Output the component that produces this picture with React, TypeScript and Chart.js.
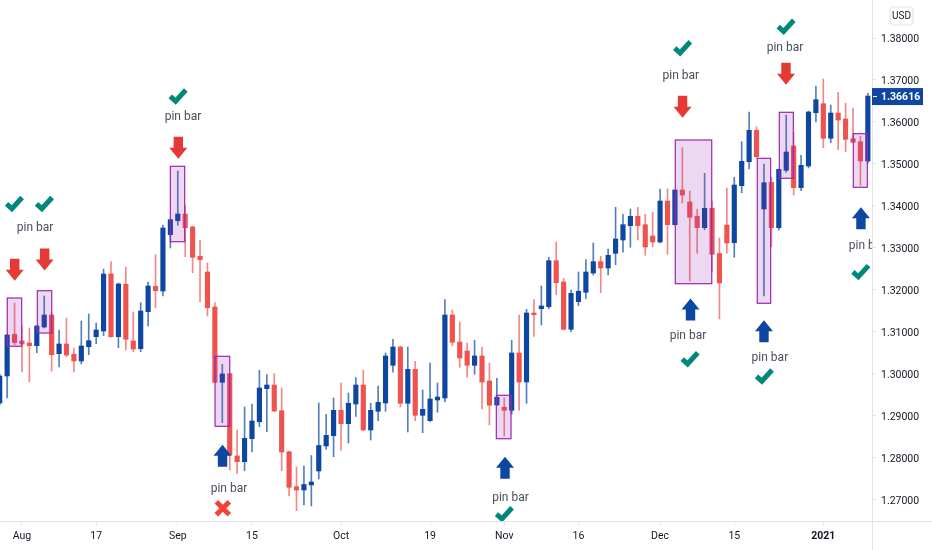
import React, { useEffect, useRef } from 'react';
import { Chart, ChartConfiguration, Plugin, registerables } from 'chart.js';

Chart.register(...registerables);

const opens = [
  1.29299, 1.29943, 1.30937, 1.30777, 1.30729, 1.30665, 1.31111, 1.31397, 1.30475, 1.30706,
  1.3046, 1.303, 1.30641, 1.3088, 1.31015, 1.32374, 1.3088, 1.32129, 1.30777, 1.30594,
  1.31476, 1.32081, 1.31969, 1.33311, 1.33645, 1.33805, 1.33495, 1.32796, 1.32422, 1.31588,
  1.29793, 1.29998, 1.28036, 1.279, 1.28448, 1.28853, 1.2964, 1.29728, 1.29116, 1.28138,
  1.27304, 1.27225, 1.27345, 1.27678, 1.28274, 1.2852, 1.29125, 1.28806, 1.29275, 1.29728,
  1.28656, 1.29101, 1.29299, 1.30198, 1.30634, 1.29292, 1.30102, 1.29006, 1.28877, 1.29371,
  1.29418, 1.31397, 1.30753, 1.30539, 1.30198, 1.3042, 1.29824, 1.29252, 1.29197, 1.29125,
  1.30491, 1.298, 1.31445, 1.31547, 1.31595, 1.32691, 1.32184, 1.31056, 1.31714, 1.31938,
  1.32398, 1.32668, 1.32517, 1.32868, 1.33185, 1.33526, 1.3375, 1.3355, 1.3328, 1.33137,
  1.34114, 1.3355, 1.34377, 1.34091, 1.3375, 1.33478, 1.33941, 1.32863, 1.33542, 1.3312,
  1.34479, 1.35051, 1.358, 1.33924, 1.3456, 1.33478, 1.34846, 1.35426, 1.34431, 1.34949,
  1.36219, 1.36434, 1.35609, 1.36212, 1.36069, 1.356, 1.35528, 1.35068,
];
const closes = [
  1.29943, 1.3092, 1.30737, 1.30706, 1.30665, 1.31135, 1.31397, 1.30451, 1.30706, 1.30443,
  1.303, 1.30658, 1.30784, 1.31039, 1.32374, 1.3088, 1.32136, 1.30818, 1.30587, 1.31492,
  1.32088, 1.31976, 1.33471, 1.33669, 1.33805, 1.33478, 1.32772, 1.32715, 1.31571, 1.29793,
  1.29991, 1.2806, 1.279, 1.28458, 1.2887, 1.29657, 1.29728, 1.29108, 1.28131, 1.27289,
  1.27225, 1.27356, 1.27416, 1.28286, 1.28529, 1.29125, 1.28806, 1.29292, 1.29728, 1.28656,
  1.29125, 1.29316, 1.3042, 1.30634, 1.29292, 1.30102, 1.29006, 1.29149, 1.29395, 1.29442,
  1.31397, 1.30746, 1.30372, 1.30198, 1.3042, 1.298, 1.29245, 1.29435, 1.29125, 1.30491,
  1.298, 1.31445, 1.31404, 1.31612, 1.32691, 1.32167, 1.31056, 1.31914, 1.31962, 1.32422,
  1.32668, 1.32517, 1.3282, 1.33209, 1.3355, 1.3375, 1.33526, 1.33018, 1.33137, 1.34114,
  1.3355, 1.34377, 1.34257, 1.33726, 1.33478, 1.33941, 1.32844, 1.3216, 1.33113, 1.34496,
  1.35061, 1.358, 1.35171, 1.34551, 1.33478, 1.3487, 1.35283, 1.34431, 1.34965, 1.36236,
  1.36529, 1.35609, 1.36212, 1.36045, 1.35585, 1.35514, 1.35068, 1.36616,
];
const highs = [
  1.29991, 1.30944, 1.31683, 1.31135, 1.31087, 1.31142, 1.3185, 1.31445, 1.31039, 1.31325,
  1.3061, 1.31254, 1.31421, 1.31206, 1.32493, 1.32668, 1.3216, 1.32541, 1.31469, 1.3169,
  1.32184, 1.32834, 1.33542, 1.33685, 1.3483, 1.34019, 1.33519, 1.33185, 1.32637, 1.3169,
  1.30222, 1.30014, 1.28656, 1.29204, 1.29275, 1.30079, 1.29974, 1.29998, 1.29657, 1.28155,
  1.27774, 1.27797, 1.28048, 1.29299, 1.2903, 1.29418, 1.29776, 1.29537, 1.29902, 1.30079,
  1.29292, 1.29705, 1.30491, 1.30818, 1.30658, 1.30634, 1.30293, 1.29609, 1.30253, 1.29776,
  1.31762, 1.31516, 1.3123, 1.30729, 1.30794, 1.30634, 1.30253, 1.29888, 1.29418, 1.30794,
  1.31397, 1.31533, 1.31762, 1.32088, 1.32772, 1.33137, 1.32272, 1.31993, 1.32422, 1.32715,
  1.33113, 1.32796, 1.3297, 1.33964, 1.33797, 1.33924, 1.33964, 1.33797, 1.33845, 1.344,
  1.344, 1.3438, 1.35385, 1.34353, 1.33917, 1.34775, 1.34114, 1.33233, 1.34424, 1.3468,
  1.35528, 1.36236, 1.35886, 1.34997, 1.3468, 1.34877, 1.36165, 1.35752, 1.35204, 1.3626,
  1.36856, 1.37023, 1.36403, 1.36706, 1.36444, 1.36331, 1.35657, 1.36682,
];
const lows = [
  1.29252, 1.29418, 1.30682, 1.30038, 1.298, 1.30498, 1.31087, 1.30062, 1.30157, 1.30403,
  1.30038, 1.30229, 1.30451, 1.30713, 1.30904, 1.3086, 1.30617, 1.30563, 1.30522, 1.30522,
  1.31135, 1.31571, 1.3185, 1.32994, 1.33535, 1.32787, 1.32405, 1.31714, 1.31373, 1.2978,
  1.2883, 1.27702, 1.27623, 1.27685, 1.28131, 1.28734, 1.28615, 1.29092, 1.27685, 1.27082,
  1.26732, 1.26868, 1.26844, 1.27487, 1.28195, 1.28019, 1.28172, 1.28346, 1.28982, 1.2864,
  1.28417, 1.28877, 1.29101, 1.30031, 1.29204, 1.28608, 1.28877, 1.28591, 1.2886, 1.29077,
  1.29323, 1.30665, 1.3015, 1.29912, 1.29983, 1.29156, 1.28775, 1.2924, 1.28512, 1.2903,
  1.29125, 1.29292, 1.30884, 1.31159, 1.31547, 1.31881, 1.31039, 1.30999, 1.31619, 1.31785,
  1.3235, 1.31929, 1.3235, 1.32596, 1.32892, 1.33011, 1.33185, 1.3282, 1.33018, 1.33113,
  1.32844, 1.3354, 1.34067, 1.32208, 1.32868, 1.3343, 1.32422, 1.31302, 1.32868, 1.32772,
  1.34312, 1.34877, 1.3514, 1.3185, 1.33025, 1.33423, 1.34799, 1.34257, 1.3436, 1.34901,
  1.35998, 1.35385, 1.35504, 1.35337, 1.3529, 1.355, 1.34489, 1.35013,
];

const xTickIndex = [3, 13, 24, 34, 46, 58, 68, 78, 89, 99, 111];
const xTickLabels = ['Aug', '17', 'Sep', '15', 'Oct', '19', 'Nov', '16', 'Dec', '15', '2021'];
const yTicks = [1.27, 1.28, 1.29, 1.3, 1.31, 1.32, 1.33, 1.34, 1.35, 1.36, 1.37, 1.38];
const lastPrice = 1.36616;

// pin bar boxes: first bar, last bar, top price, bottom price
const boxes = [
  [1.02, 2.96, 1.31802, 1.30651],
  [5.07, 7.01, 1.31976, 1.30968],
  [23.0, 24.93, 1.34942, 1.33144],
  [29.02, 31.0, 1.30412, 1.28744],
  [66.93, 68.91, 1.29483, 1.28448],
  [91.05, 95.96, 1.35569, 1.32143],
  [102.1, 103.9, 1.35132, 1.31676],
  [105.07, 106.96, 1.36229, 1.34656],
  [115.04, 116.93, 1.35719, 1.34441],
];
const downArrows = [
  [2.02, 1.32477],
  [6.06, 1.3272],
  [24.07, 1.35383],
  [92.03, 1.36362],
  [105.97, 1.37149],
];
const upArrows = [
  [30.03, 1.28043],
  [68.1, 1.27754],
  [93.1, 1.31526],
  [103.0, 1.31008],
  [116.07, 1.33702],
];
const pinLabels = [
  [4.76, 1.33502],
  [24.7, 1.36141],
  [30.9, 1.27273],
  [68.84, 1.27066],
  [92.76, 1.3092],
  [91.8, 1.37118],
  [105.83, 1.37793],
  [103.8, 1.30403],
  [116.9, 1.33066],
];
const checks = [
  [1.97, 1.34055],
  [6.01, 1.34055],
  [24.03, 1.36618],
  [68.0, 1.26658],
  [93.03, 1.30355],
  [92.02, 1.37767],
  [105.97, 1.38279],
  [103.04, 1.29943],
  [116.04, 1.32432],
];
const crosses = [[30.07, 1.26789]];

const BLUE = '#0d47a1';
const RED = '#ef5350';
const BLUE_WICK = 'rgba(13, 71, 161, 0.7)';
const RED_WICK = 'rgba(239, 83, 80, 0.7)';
const FONT = 'Roboto';
const AXIS_COLOR = '#e0e3eb';
const TEXT_COLOR = '#131722';

const barColors = opens.map((o, i) => (closes[i] >= o ? BLUE : RED));
const wickColors = opens.map((o, i) => (closes[i] >= o ? BLUE_WICK : RED_WICK));

const overlay: Plugin = {
  id: 'overlay',
  afterDatasetsDraw(chart) {
    const { ctx, chartArea, scales } = chart;
    const x = scales.x;
    const y = scales.y;
    ctx.save();
    ctx.beginPath();
    ctx.rect(chartArea.left, chartArea.top, chartArea.width, chartArea.height);
    ctx.clip();

    boxes.forEach(([a, b, top, bottom]) => {
      const left = x.getPixelForValue(a);
      const right = x.getPixelForValue(b);
      const t = y.getPixelForValue(top);
      const h = y.getPixelForValue(bottom) - t;
      ctx.fillStyle = 'rgba(156, 39, 176, 0.18)';
      ctx.fillRect(left, t, right - left, h);
      ctx.strokeStyle = '#9c27b0';
      ctx.lineWidth = 1.2;
      ctx.strokeRect(left, t, right - left, h);
    });

    const arrow = (cx: number, cy: number, dir: number, color: string) => {
      ctx.fillStyle = color;
      ctx.beginPath();
      ctx.moveTo(cx, cy + dir * 11);
      ctx.lineTo(cx + 9, cy);
      ctx.lineTo(cx + 4.7, cy);
      ctx.lineTo(cx + 4.7, cy - dir * 11);
      ctx.lineTo(cx - 4.7, cy - dir * 11);
      ctx.lineTo(cx - 4.7, cy);
      ctx.lineTo(cx - 9, cy);
      ctx.closePath();
      ctx.fill();
    };
    downArrows.forEach(([i, p]) => arrow(x.getPixelForValue(i), y.getPixelForValue(p), 1, '#e53935'));
    upArrows.forEach(([i, p]) => arrow(x.getPixelForValue(i), y.getPixelForValue(p), -1, BLUE));

    ctx.strokeStyle = '#00897b';
    ctx.lineWidth = 5;
    ctx.lineJoin = 'miter';
    checks.forEach(([i, p]) => {
      const cx = x.getPixelForValue(i);
      const cy = y.getPixelForValue(p);
      ctx.beginPath();
      ctx.moveTo(cx - 7.8, cy + 0.4);
      ctx.lineTo(cx - 2.4, cy + 5.2);
      ctx.lineTo(cx + 7.8, cy - 6);
      ctx.stroke();
    });

    ctx.strokeStyle = '#f44336';
    crosses.forEach(([i, p]) => {
      const cx = x.getPixelForValue(i);
      const cy = y.getPixelForValue(p);
      ctx.beginPath();
      ctx.moveTo(cx - 6.5, cy - 6.5);
      ctx.lineTo(cx + 6.5, cy + 6.5);
      ctx.moveTo(cx + 6.5, cy - 6.5);
      ctx.lineTo(cx - 6.5, cy + 6.5);
      ctx.stroke();
    });

    ctx.fillStyle = '#4a4e5a';
    ctx.font = `12px ${FONT}`;
    ctx.textAlign = 'center';
    ctx.textBaseline = 'middle';
    pinLabels.forEach(([i, p]) => ctx.fillText('pin bar', x.getPixelForValue(i), y.getPixelForValue(p) + 1));
    ctx.restore();
  },
  afterDraw(chart) {
    const { ctx, chartArea, scales, width, height } = chart;
    ctx.save();
    ctx.strokeStyle = AXIS_COLOR;
    ctx.lineWidth = 1;
    ctx.beginPath();
    ctx.moveTo(chartArea.right + 0.5, 0);
    ctx.lineTo(chartArea.right + 0.5, height);
    ctx.moveTo(0, chartArea.bottom + 0.5);
    ctx.lineTo(width, chartArea.bottom + 0.5);
    ctx.stroke();

    // last price tag
    const py = scales.y.getPixelForValue(lastPrice);
    ctx.fillStyle = BLUE;
    ctx.fillRect(chartArea.right, py - 8, 51, 17);
    ctx.fillStyle = '#ffffff';
    ctx.fillRect(chartArea.right + 1, py, 4, 1);
    ctx.font = `bold 10.5px ${FONT}`;
    ctx.textAlign = 'left';
    ctx.textBaseline = 'middle';
    ctx.fillText(lastPrice.toFixed(5), chartArea.right + 9, py + 1);

    // currency badge
    ctx.strokeStyle = AXIS_COLOR;
    ctx.lineWidth = 1.2;
    ctx.beginPath();
    ctx.roundRect(890, 7, 23, 18, 4);
    ctx.stroke();
    ctx.fillStyle = TEXT_COLOR;
    ctx.font = `10px ${FONT}`;
    ctx.textAlign = 'center';
    ctx.fillText('USD', 901.5, 16.5);
    ctx.restore();
  },
};

export default function App() {
  const canvasRef = useRef<HTMLCanvasElement>(null);

  useEffect(() => {
    if (!canvasRef.current) return;
    const config: ChartConfiguration = {
      type: 'bar',
      data: {
        datasets: [
          {
            label: 'Body',
            data: opens.map((o, i) => ({ x: i, y: [o, closes[i]] })) as any,
            backgroundColor: barColors,
            barThickness: 4.5,
            grouped: false,
          },
          {
            label: 'Wick',
            data: lows.map((l, i) => ({ x: i, y: [l, highs[i]] })) as any,
            backgroundColor: wickColors,
            barThickness: 1,
            grouped: false,
          },
        ],
      },
      options: {
        responsive: false,
        animation: false,
        events: [],
        layout: { padding: 0 },
        plugins: { legend: { display: false }, tooltip: { enabled: false } },
        scales: {
          x: {
            type: 'linear',
            offset: false,
            min: 0.04,
            max: 117.56,
            grid: { offset: false, drawOnChartArea: false, tickLength: 4, tickColor: AXIS_COLOR },
            border: { display: false },
            afterBuildTicks: (axis) => {
              axis.ticks = xTickIndex.map((value) => ({ value }));
            },
            afterFit: (axis: any) => {
              axis.height = 29;
              axis.paddingLeft = 0;
              axis.paddingRight = 0;
            },
            ticks: {
              autoSkip: false,
              maxRotation: 0,
              padding: 5,
              color: TEXT_COLOR,
              font: (ctx) => ({
                family: FONT,
                size: 10.5,
                weight: ctx.tick && ctx.tick.value === 111 ? 'bold' : 'normal',
              }),
              callback: (value) => xTickLabels[xTickIndex.indexOf(Number(value))],
            },
          },
          y: {
            position: 'right',
            min: 1.26486,
            max: 1.38906,
            grid: { drawOnChartArea: false, tickLength: 4, tickColor: AXIS_COLOR },
            border: { display: false },
            afterBuildTicks: (axis) => {
              axis.ticks = yTicks.map((value) => ({ value }));
            },
            afterFit: (axis: any) => {
              axis.width = 60;
              axis.paddingTop = 0;
              axis.paddingBottom = 0;
            },
            ticks: {
              padding: 5,
              labelOffset: 1.5,
              color: TEXT_COLOR,
              font: { family: FONT, size: 10.5 },
              callback: (value) => Number(value).toFixed(5),
            },
          },
        },
      },
      plugins: [overlay],
    };
    const chart = new Chart(canvasRef.current, config);
    return () => chart.destroy();
  }, []);

  return (
    <div style={{ position: 'fixed', left: 0, top: 0, width: 932, height: 550, background: '#fff' }}>
      <canvas ref={canvasRef} width={932} height={550} style={{ display: 'block' }} />
    </div>
  );
}
